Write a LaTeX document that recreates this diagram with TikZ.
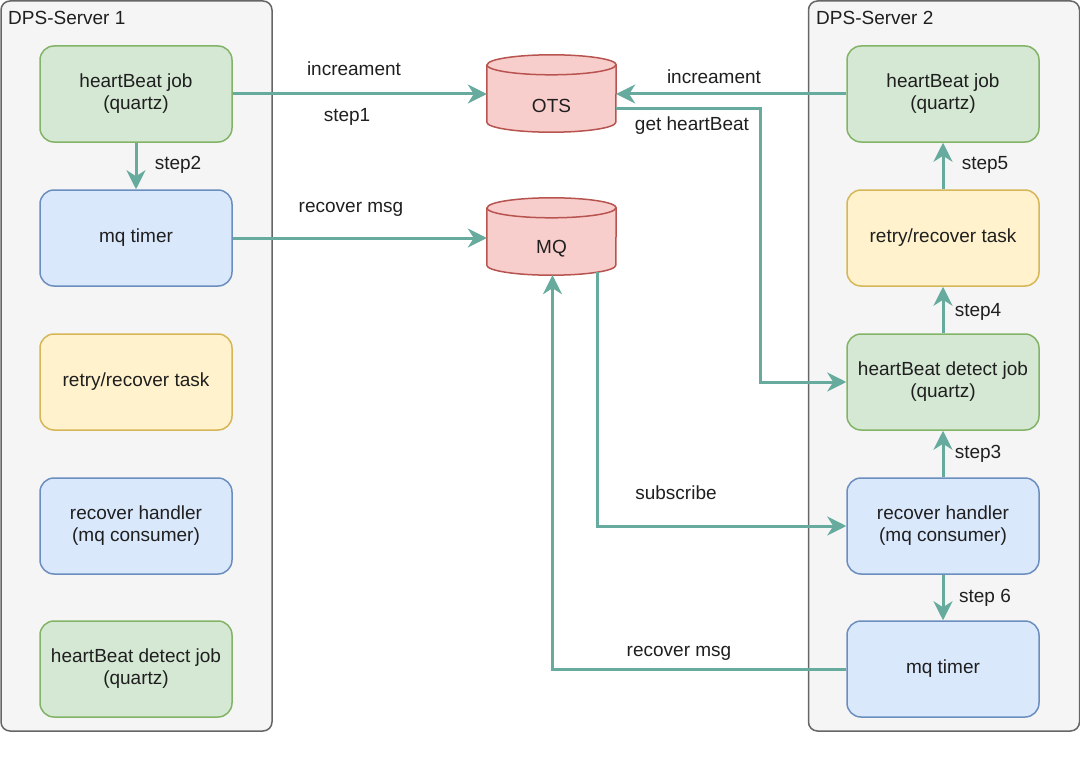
\documentclass[tikz,border=0pt]{standalone}
\usepackage{fontspec}
\setmainfont{Liberation Sans}
\usetikzlibrary{arrows.meta}
\definecolor{greenfill}{HTML}{D5E8D4}
\definecolor{greenline}{HTML}{82B366}
\definecolor{bluefill}{HTML}{DAE8FC}
\definecolor{blueline}{HTML}{6C8EBF}
\definecolor{yellowfill}{HTML}{FFF2CC}
\definecolor{yellowline}{HTML}{D6B656}
\definecolor{redfill}{HTML}{F8CECC}
\definecolor{redline}{HTML}{B85450}
\definecolor{serverfill}{HTML}{F5F5F5}
\definecolor{serverline}{HTML}{666666}
\definecolor{flowcol}{HTML}{67AB9F}
\definecolor{txt}{HTML}{1F1F1F}
\newcommand{\dbdrum}[1]{%
  \path[drum] ([yshift=-10pt]#1.north west) -- ([yshift=10pt]#1.south west)
    arc[start angle=180,end angle=360,x radius=64.5pt,y radius=10pt]
    -- ([yshift=-10pt]#1.north east)
    arc[start angle=0,end angle=180,x radius=64.5pt,y radius=10pt] -- cycle;
  \draw[redline,line width=1.5pt] ([yshift=-10pt]#1.north west)
    arc[start angle=180,end angle=360,x radius=64.5pt,y radius=10pt];}
\begin{document}
\begin{tikzpicture}[x=1pt,y=-1pt,
  font=\fontsize{19}{22}\selectfont, text=txt,
  server/.style={draw=serverline,fill=serverfill,line width=1.5pt,rounded corners=9pt,
    minimum width=271pt,minimum height=730pt,inner sep=0pt},
  box/.style={rounded corners=14pt,line width=1.5pt,minimum width=192pt,minimum height=96pt,
    align=center,inner sep=2pt},
  greenbox/.style={box,draw=greenline,fill=greenfill},
  bluebox/.style={box,draw=blueline,fill=bluefill},
  yellowbox/.style={box,draw=yellowline,fill=yellowfill},
  store/.style={minimum width=129pt,minimum height=77pt,inner sep=0pt},
  drum/.style={draw=redline,fill=redfill,line width=1.5pt,line join=round},
  flow/.style={draw=flowcol,line width=3pt,-{Stealth[length=19pt,width=19pt,inset=6pt]}},
  lbl/.style={inner sep=1pt}]
\useasboundingbox (0,0) rectangle (1080,760);
% the two servers
\node[server] (srv1) at (136.5,366) {};
\node[server] (srv2) at (944,366) {};
\node[lbl,anchor=west] (srv1name) at (7,18) {DPS-Server 1};
\node[lbl,anchor=west] (srv2name) at (815,18) {DPS-Server 2};
% server 1
\node[greenbox] (hb1) at (136,94) {heartBeat job\\(quartz)};
\node[bluebox] (mt1) at (136,238) {mq timer};
\node[yellowbox] (rt1) at (136,382) {retry/recover task};
\node[bluebox] (rh1) at (136,526) {recover handler\\(mq consumer)};
\node[greenbox] (hbd1) at (136,669) {heartBeat detect job\\(quartz)};
% server 2
\node[greenbox] (hb2) at (943,94) {heartBeat job\\(quartz)};
\node[yellowbox] (rt2) at (943,238) {retry/recover task};
\node[greenbox] (hbd2) at (943,382) {heartBeat detect job\\(quartz)};
\node[bluebox] (rh2) at (943,526) {recover handler\\(mq consumer)};
\node[bluebox] (mt2) at (943,669) {mq timer};
% storage
\node[store] (ots) at (551.5,93.5) {};
\node[store] (mq) at (551.5,236.5) {};
\dbdrum{ots}
\dbdrum{mq}
\node[lbl] (otsname) at (551.5,106) {OTS};
\node[lbl] (mqname) at (551.5,249) {MQ};
% connectors
\draw[flow] (hb1.east) -- (hb1.east -| ots.west);
\draw[flow] (hb1) -- (mt1);
\draw[flow] (mt1.east) -- (mt1.east -| mq.west);
\draw[flow] (hb2.west) -- (hb2.west -| ots.east);
\draw[flow] ([yshift=-15.5pt]ots.east) -- ++(144,0) |- (hbd2.west);
\draw[flow] ([xshift=46pt,yshift=3pt]mq.south) |- (rh2.west);
\draw[flow] (mt2.west) -| ([xshift=1pt]mq.south);
\draw[flow] (rh2) -- (hbd2);
\draw[flow] (hbd2) -- (rt2);
\draw[flow] (rt2) -- (hb2);
\draw[flow] (rh2) -- (mt2);
% labels
\node[lbl] (l1) at (354,69) {increament};
\node[lbl] (l2) at (347,117) {step1};
\node[lbl] (l3) at (178,165) {step2};
\node[lbl] (l4) at (351,209) {recover msg};
\node[lbl] (l5) at (714,77) {increament};
\node[lbl] (l6) at (692,126) {get heartBeat};
\node[lbl] (l7) at (985,165) {step5};
\node[lbl] (l8) at (978,312) {step4};
\node[lbl] (l9) at (978,454) {step3};
\node[lbl] (l10) at (985,598) {step 6};
\node[lbl] (l11) at (676,493) {subscribe};
\node[lbl] (l12) at (679,653) {recover msg};
\end{tikzpicture}
\end{document}
